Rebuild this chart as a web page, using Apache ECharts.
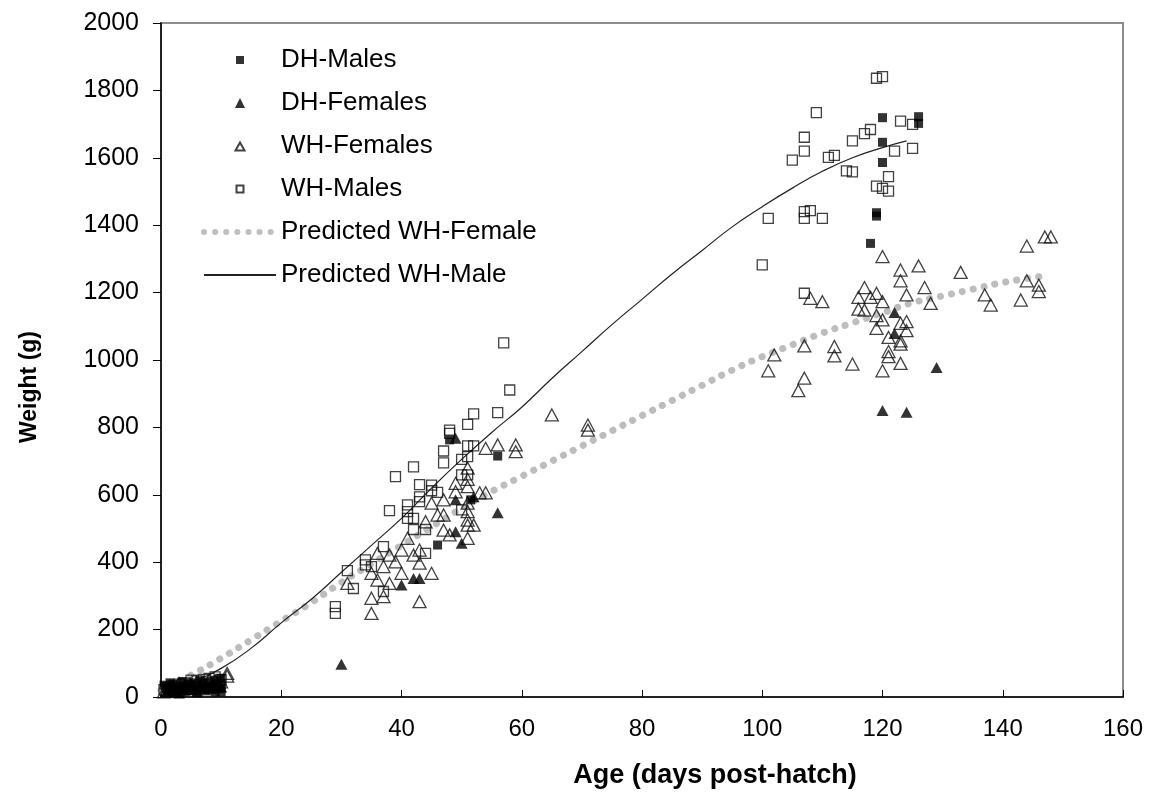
<!DOCTYPE html>
<html>
<head>
<meta charset="utf-8">
<script src="https://cdn.jsdelivr.net/npm/echarts@6/dist/echarts.min.js"></script>
<style>
  html, body { margin: 0; padding: 0; background: #fff; }
  #chart { width: 1151px; height: 799px; }
</style>
</head>
<body>
<div id="chart"></div>
<script>
(function(){
var mychart = echarts.init(document.getElementById('chart'));

// Weight data, [age (days), weight (g)]
var dhMales = [
  [0.5,35],[1,30],[1,20],[1.5,42],[2,25],[2,38],[2.5,15],[3,22],[3,32],[3.5,45],[4,28],[4,18],[4.5,38],
  [5,30],[5,42],[5.5,20],[6,35],[6,25],[6.5,48],[7,40],[7,28],[7.5,18],[8,45],[8,32],[8.5,22],[9,50],
  [9,30],[9.5,40],[10,55],[10,38],[10,25],[10,15],[9,15],[6,12],[3,10],
  [46,451],[48,763],[51.5,585],[56,715],
  [118,1346],[119,1437],[119,1427],[120,1586],[120,1646],[120,1719],[126,1702],[126,1722]
];
var dhFemales = [
  [1,15],[2,18],[3,12],[4,20],[5,22],[6,18],[7,25],[8,28],[9,35],[10,30],
  [30,97],[40,332],[42,352],[43,352],[49,768],[49,585],[49,490],[50,456],[52,594],[56,547],
  [122,1141],[122,1079],[129,978],[120,850],[124,845]
];
var whFemales = [
  [0.5,15],[1,22],[2,28],[3,20],[3,40],[4,35],[5,38],[6,45],[7,42],[8,50],[9,48],[10,45],[11,70],[11,62],
  [54,738],[56,748],[59,748],[59,728],[51,679],[49,634],[49,609],[51,646],[51,624],[53,606],[54,606],
  [47,585],[45,575],[51,575],[51,550],[47,540],[46,540],[44,520],[51,525],[51,510],[52,510],[47,495],
  [48,481],[51,471],[41,471],[40,436],[42,421],[43,436],[43,397],[38,421],[36,426],[37,387],[39,401],
  [40,367],[35,367],[36,347],[45,367],[35,293],[37,298],[43,283],[35,248],[31,337],[38,337],
  [65,837],[71,807],[71,792],
  [120,1307],[123,1267],[126,1279],[123,1235],[127,1215],[117,1215],[119,1198],[116,1186],[118,1186],
  [120,1173],[124,1193],[128,1168],[108,1183],[110,1173],[116,1151],[117,1148],[119,1132],[120,1119],
  [123,1109],[124,1114],[124,1087],[119,1094],[121,1067],[123,1057],[123,1047],[121,1025],[121,1010],
  [123,990],[120,968],[115,988],[112,1040],[112,1012],[107,1042],[102,1015],[101,968],[107,946],[106,909],
  [144,1338],[147,1365],[148,1365],[133,1260],[137,1193],[138,1163],[144,1235],[146,1222],[146,1203],[143,1178]
];
var whMales = [
  [0.5,22],[1,28],[2,32],[3,38],[4,42],[5,50],[6,48],[7,52],[8,55],[9,60],[10,52],
  [57,1051],[58,911],[52,840],[56,844],[51,809],[48,792],[48,782],[47,730],[47,695],[51,745],[52,745],
  [50,705],[51,713],[42,683],[39,654],[50,659],[51,659],[43,630],[45,629],[45,612],[46,607],[43,594],
  [43,580],[41,570],[41,550],[41,530],[42,530],[38,553],[42,497],[44,497],[50,555],[37,446],[34,407],
  [34,392],[35,387],[31,375],[32,322],[37,313],[29,268],[29,248],[44,426],
  [119,1836],[120,1841],[109,1734],[107,1661],[107,1620],[105,1593],[111,1601],[112,1607],[115,1650],
  [117,1672],[118,1684],[123,1709],[125,1699],[122,1620],[125,1628],[114,1561],[115,1558],[121,1544],
  [119,1516],[120,1509],[121,1501],[101,1420],[107,1440],[108,1443],[107,1420],[110,1420],[100,1282],[107,1198]
];
// fitted curves
var femaleCurve = [
  [0,20],[5,65],[10,115],[15,170],[20,225],[25,280],[30,340],[35,395],[40,450],[45,505],[50,560],
  [55,610],[60,655],[65,700],[70,745],[75,790],[80,835],[85,880],[90,925],[95,970],[100,1010],
  [105,1045],[110,1080],[115,1110],[120,1140],[125,1170],[130,1190],[135,1210],[140,1230],[146,1247]
];
var maleCurve = [
  [0,20],[5,45],[10,85],[15,145],[20,220],[25,290],[30,370],[35,450],[40,530],[45,620],[50,705],
  [55,785],[60,860],[65,945],[70,1025],[75,1105],[80,1180],[85,1255],[90,1325],[95,1395],[100,1455],
  [105,1510],[110,1560],[115,1600],[120,1630],[124,1650]
];

var font = "'Liberation Sans', Arial, sans-serif";
var hidden = { color: 'rgba(0,0,0,0)', borderWidth: 0 };
// legend icons: small marker centred in a 72x10 box
var squareIcon = 'path://M0,0M72,10M32,1h8v8h-8z';
var openSquareIcon = 'path://M0,0M72,10M32.5,1.5h7v7h-7z';
var triIcon = 'path://M0,0M72,10M36,0L41,10L31,10z';
var openTriIcon = 'path://M0,0M72,10M36,1.5L40.5,9.5L31.5,9.5z';

var option = {
    backgroundColor: '#fff',
    animation: false,
    grid: {
        left: 161,
        right: 28,
        top: 23,
        bottom: 102,
        show: true,
        borderColor: '#8c8c8c',
        borderWidth: 2
    },
    legend: {
        orient: 'vertical',
        left: 196,
        top: 42,
        itemWidth: 72,
        itemHeight: 10,
        itemGap: 17,
        data: [
            { name: 'DH-Males', icon: squareIcon },
            { name: 'DH-Females', icon: triIcon },
            { name: 'WH-Females', icon: openTriIcon },
            { name: 'WH-Males', icon: openSquareIcon },
            { name: 'Predicted WH-Female', itemStyle: hidden,
              lineStyle: { color: '#c0c0c0', width: 6, type: [0.1, 11], cap: 'round' } },
            { name: 'Predicted WH-Male', itemStyle: hidden }
        ],
        textStyle: {
            color: '#000',
            fontFamily: font,
            fontSize: 26,
            lineHeight: 26
        }
    },
    xAxis: {
        type: 'value',
        min: 0,
        max: 160,
        interval: 20,
        axisLine: { lineStyle: { color: '#000', width: 1.5 } },
        axisTick: { inside: true, length: 7, lineStyle: { color: '#000' } },
        axisLabel: { color: '#000', fontFamily: font, fontSize: 24, margin: 20 },
        splitLine: { show: false }
    },
    yAxis: {
        type: 'value',
        min: 0,
        max: 2000,
        interval: 200,
        axisLine: { show: true, lineStyle: { color: '#000', width: 1.5 } },
        axisTick: { show: true, length: 8, lineStyle: { color: '#000' } },
        axisLabel: {
            color: '#000', fontFamily: font, fontSize: 25, margin: 22,
            formatter: function (v) { return String(v); }
        },
        splitLine: { show: false }
    },
    graphic: [{
        type: 'text',
        rotation: Math.PI / 2,
        x: 30, y: 387,
        style: {
            text: 'Weight (g)',
            align: 'center',
            verticalAlign: 'middle',
            font: 'bold 23px ' + font,
            fill: '#000'
        }
    }, {
        type: 'text',
        x: 715, y: 776,
        style: {
            text: 'Age (days post-hatch)',
            align: 'center',
            verticalAlign: 'middle',
            font: 'bold 27px ' + font,
            fill: '#000'
        }
    }],
    series: [{
        name: 'Predicted WH-Female',
        type: 'line',
        smooth: true,
        symbol: 'none',
        z: 1,
        data: femaleCurve,
        lineStyle: { color: '#bdbdbd', width: 7, type: [0.1, 11], cap: 'round' },
        itemStyle: { color: '#bdbdbd' }
    }, {
        name: 'Predicted WH-Male',
        type: 'line',
        smooth: true,
        symbol: 'none',
        z: 2,
        data: maleCurve,
        lineStyle: { color: '#222', width: 1.2 },
        itemStyle: { color: '#222' }
    }, {
        name: 'WH-Females',
        type: 'scatter',
        symbol: 'triangle',
        symbolSize: [13, 12],
        z: 3,
        data: whFemales,
        itemStyle: { color: 'rgba(255,255,255,0)', borderColor: '#111', borderWidth: 1.3 }
    }, {
        name: 'WH-Males',
        type: 'scatter',
        symbol: 'rect',
        symbolSize: 10,
        z: 3,
        data: whMales,
        itemStyle: { color: 'rgba(255,255,255,0)', borderColor: '#111', borderWidth: 1.3 }
    }, {
        name: 'DH-Males',
        type: 'scatter',
        symbol: 'rect',
        symbolSize: 9,
        z: 4,
        data: dhMales,
        itemStyle: { color: '#000' }
    }, {
        name: 'DH-Females',
        type: 'scatter',
        symbol: 'triangle',
        symbolSize: [12, 11],
        z: 4,
        data: dhFemales,
        itemStyle: { color: '#000' }
    }]
};
mychart.setOption(option);
})();
</script>
</body>
</html>
